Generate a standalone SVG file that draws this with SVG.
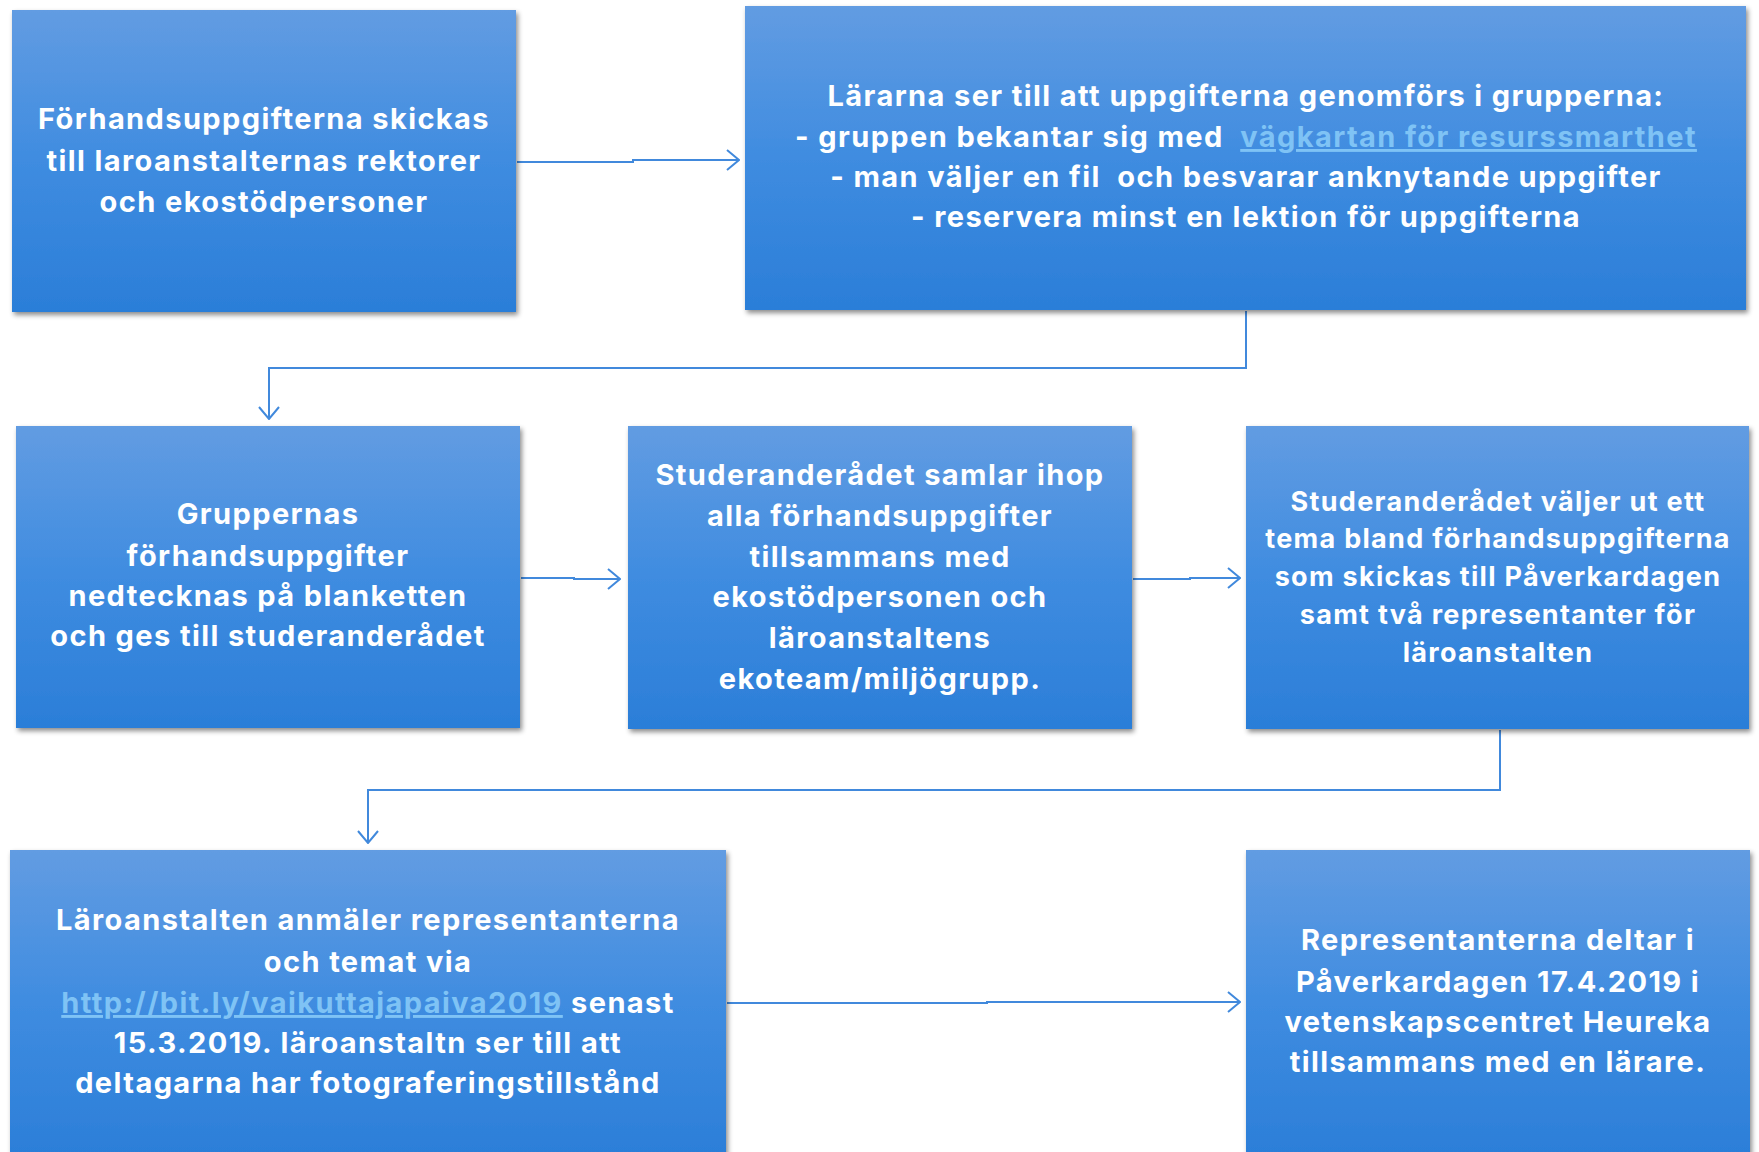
<svg xmlns="http://www.w3.org/2000/svg" width="1759" height="1152" viewBox="0 0 1759 1152">
<style>
.t{font-family:Inter,"Liberation Sans",sans-serif;font-weight:700;font-size:29px;letter-spacing:1.4px;fill:#fff;text-anchor:middle}
.s{font-size:27px;letter-spacing:1.3px}
.lk{fill:#7fc3f5;text-decoration:underline}
.c{fill:none;stroke:#4189dc;stroke-width:2}
</style>
<defs>
<linearGradient id="g" x1="0" y1="0" x2="0" y2="1">
<stop offset="0" stop-color="#629ce2"/>
<stop offset="0.5" stop-color="#3f8ce0"/>
<stop offset="1" stop-color="#2b7ed8"/>
</linearGradient>
<filter id="sh" x="-5%" y="-5%" width="115%" height="115%">
<feDropShadow dx="2" dy="3" stdDeviation="2.5" flood-color="#000" flood-opacity="0.45"/>
</filter>
<marker id="a" viewBox="0 0 14 22" refX="13" refY="11" markerWidth="14" markerHeight="22" markerUnits="userSpaceOnUse" orient="auto">
<path d="M1,1 L13,11 L1,21" fill="none" stroke="#4189dc" stroke-width="2"/>
</marker>
</defs>

<g id="connectors">
<path class="c" d="M517,162 H633 V160 H739" marker-end="url(#a)"/>
<path class="c" d="M1246,311 V368 H269 V419" marker-end="url(#a)"/>
<path class="c" d="M521,578 H574 V579 H620" marker-end="url(#a)"/>
<path class="c" d="M1133,579 H1190 V578 H1240" marker-end="url(#a)"/>
<path class="c" d="M1500,730 V790 H368 V843" marker-end="url(#a)"/>
<path class="c" d="M727,1003 H987 V1002 H1240" marker-end="url(#a)"/>
</g>

<g id="n1">
<rect x="12" y="10" width="504" height="302" fill="url(#g)" filter="url(#sh)"/>
<text class="t" x="264"><tspan x="264" y="129">Förhandsuppgifterna skickas</tspan><tspan x="264" y="171">till laroanstalternas rektorer</tspan><tspan x="264" y="212">och ekostödpersoner</tspan></text>
</g>

<g id="n2">
<rect x="745" y="6" width="1001" height="304" fill="url(#g)" filter="url(#sh)"/>
<text class="t" x="1246" xml:space="preserve"><tspan x="1246" y="106">Lärarna ser till att uppgifterna genomförs i grupperna:</tspan><tspan x="1246" y="147">- gruppen bekantar sig med  <tspan class="lk">vägkartan för resurssmarthet</tspan></tspan><tspan x="1246" y="187">- man väljer en fil  och besvarar anknytande uppgifter</tspan><tspan x="1246" y="227">- reservera minst en lektion för uppgifterna</tspan></text>
</g>

<g id="n3">
<rect x="16" y="426" width="504" height="302" fill="url(#g)" filter="url(#sh)"/>
<text class="t"><tspan x="268" y="524">Gruppernas</tspan><tspan x="268" y="566">förhandsuppgifter</tspan><tspan x="268" y="606">nedtecknas på blanketten</tspan><tspan x="268" y="646">och ges till studeranderådet</tspan></text>
</g>

<g id="n4">
<rect x="628" y="426" width="504" height="303" fill="url(#g)" filter="url(#sh)"/>
<text class="t"><tspan x="880" y="485">Studeranderådet samlar ihop</tspan><tspan x="880" y="526">alla förhandsuppgifter</tspan><tspan x="880" y="567">tillsammans med</tspan><tspan x="880" y="607">ekostödpersonen och</tspan><tspan x="880" y="648">läroanstaltens</tspan><tspan x="880" y="689">ekoteam/miljögrupp.</tspan></text>
</g>

<g id="n5">
<rect x="1246" y="426" width="503" height="303" fill="url(#g)" filter="url(#sh)"/>
<text class="t s"><tspan x="1498" y="511">Studeranderådet väljer ut ett</tspan><tspan x="1498" y="548">tema bland förhandsuppgifterna</tspan><tspan x="1498" y="586">som skickas till Påverkardagen</tspan><tspan x="1498" y="624">samt två representanter för</tspan><tspan x="1498" y="662">läroanstalten</tspan></text>
</g>

<g id="n6">
<rect x="10" y="850" width="716" height="310" fill="url(#g)" filter="url(#sh)"/>
<text class="t"><tspan x="368" y="930">Läroanstalten anmäler representanterna</tspan><tspan x="368" y="972">och temat via</tspan><tspan x="368" y="1013"><tspan class="lk">http://bit.ly/vaikuttajapaiva2019</tspan> senast</tspan><tspan x="368" y="1053">15.3.2019. läroanstaltn ser till att</tspan><tspan x="368" y="1093">deltagarna har fotograferingstillstånd</tspan></text>
</g>

<g id="n7">
<rect x="1246" y="850" width="504" height="310" fill="url(#g)" filter="url(#sh)"/>
<text class="t"><tspan x="1498" y="950">Representanterna deltar i</tspan><tspan x="1498" y="992">Påverkardagen 17.4.2019 i</tspan><tspan x="1498" y="1032">vetenskapscentret Heureka</tspan><tspan x="1498" y="1072">tillsammans med en lärare.</tspan></text>
</g>
</svg>
